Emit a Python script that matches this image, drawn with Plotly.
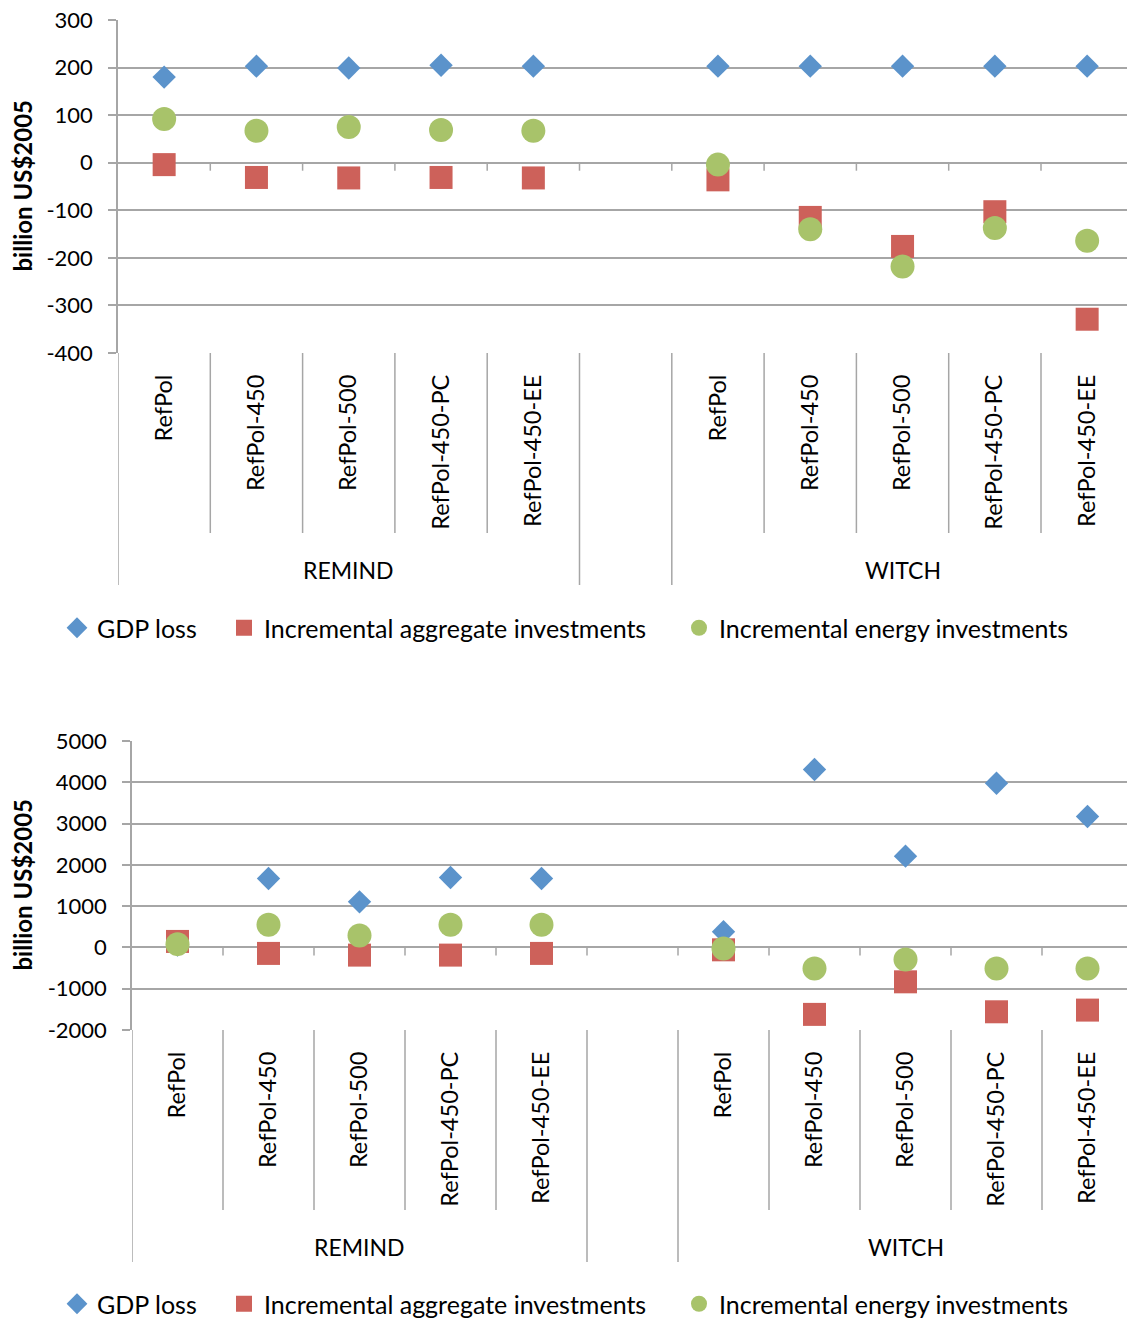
import plotly.graph_objects as go

# ---------------- data ----------------
models = ["REMIND", "WITCH"]
scenarios = ["RefPol", "RefPol-450", "RefPol-500", "RefPol-450-PC", "RefPol-450-EE"]
series_names = ["GDP loss", "Incremental aggregate investments", "Incremental energy investments"]

# top panel (REMIND x5, then WITCH x5), billion US$2005
top_gdp_loss = [180, 203, 199, 205, 203, 203, 203, 203, 203, 203]
top_agg_inv = [-4, -31, -32, -31, -32, -36, -115, -176, -103, -329]
top_energy_inv = [92, 67, 75, 69, 67, -4, -140, -218, -137, -164]

# bottom panel
bottom_gdp_loss = [60, 1670, 1104, 1695, 1670, 378, 4310, 2211, 3978, 3172]
bottom_agg_inv = [145, -145, -186, -186, -145, -58, -1622, -833, -1559, -1518]
bottom_energy_inv = [80, 547, 290, 547, 547, -24, -508, -291, -508, -508]

top_ticks = [-400, -300, -200, -100, 0, 100, 200, 300]
bottom_ticks = [-2000, -1000, 0, 1000, 2000, 3000, 4000, 5000]

y_title = "billion US$2005"

# ---------------- styling ----------------
W, H = 1127, 1318
FONT = "Lato"
GRID = "#A6A6A6"
colors = ["#5B93CB", "#CD615A", "#A8C36A"]
symbols = ["diamond", "square", "circle"]
sizes = [18, 23, 24]

keys = [f"{m}|{s}" for m in models for s in scenarios]
cat_array = keys[:5] + ["gap"] + keys[5:]


def py(p):
    return 1 - p / H


def px(p):
    return p / W


panels = [
    dict(left=118, top=20, bottom=353, slot=92.3, data=[top_gdp_loss, top_agg_inv, top_energy_inv],
         ticks=top_ticks, legend_y=628, legends=["legend", "legend2", "legend3"]),
    dict(left=132, top=741, bottom=1030, slot=91.0, data=[bottom_gdp_loss, bottom_agg_inv, bottom_energy_inv],
         ticks=bottom_ticks, legend_y=1304, legends=["legend4", "legend5", "legend6"]),
]

fig = go.Figure()
layout = dict(width=W, height=H, margin=dict(l=0, r=0, t=0, b=0, autoexpand=False),
              plot_bgcolor="white", paper_bgcolor="white", showlegend=True,
              font=dict(family=FONT, size=22, color="black"),
              shapes=[], annotations=[])

legend_text_x = [97, 264, 719]

for pi, p in enumerate(panels):
    sfx = "" if pi == 0 else "2"
    xa, ya = "x" + sfx, "y" + sfx
    for si in range(3):
        fig.add_trace(go.Scatter(
            x=keys, y=p["data"][si], mode="markers", name=series_names[si],
            xaxis=xa, yaxis=ya, legend=p["legends"][si], showlegend=True,
            marker=dict(symbol=symbols[si], size=sizes[si], color=colors[si], line=dict(width=0)),
        ))
        layout[p["legends"][si]] = dict(
            x=px(legend_text_x[si] - 40), xanchor="left", y=py(p["legend_y"]), yanchor="middle",
            orientation="h", bgcolor="rgba(0,0,0,0)", borderwidth=0, visible=True,
            font=dict(family=FONT, size=25, color="black"), itemwidth=30)
    xrange = [-0.5, -0.5 + (W - p["left"]) / p["slot"]]
    layout["xaxis" + sfx] = dict(
        domain=[px(p["left"]), 1], anchor=ya, type="category", categoryarray=cat_array,
        categoryorder="array", range=xrange, showgrid=False, zeroline=False, showline=False,
        automargin=False,
        tickmode="array", tickvals=keys, ticktext=[s for m in models for s in scenarios],
        tickangle=-90, ticks="", ticklabelstandoff=16,
        tickfont=dict(family=FONT, size=23.5, color="black"))
    layout["yaxis" + sfx] = dict(
        domain=[py(p["bottom"]), py(p["top"])], anchor=xa, range=[p["ticks"][0], p["ticks"][-1]],
        automargin=False,
        tickmode="array", tickvals=p["ticks"], ticktext=[str(t) for t in p["ticks"]],
        showgrid=True, gridcolor=GRID, gridwidth=1.5,
        zeroline=True, zerolinecolor=GRID, zerolinewidth=1.5, showline=True, linecolor=GRID,
        linewidth=1.5, ticks="outside", ticklen=8, tickcolor=GRID, tickwidth=1.5,
        ticklabelstandoff=11, tickfont=dict(family=FONT, size=22, color="black"))
    ymin = p["ticks"][0]
    n = len(cat_array)
    group_bounds = [-0.5, 4.5, 5.5, 10.5]
    for b in range(n - 1):
        bx = b + 0.5
        # small ticks on the zero line
        layout["shapes"].append(dict(type="line", xref=xa, yref=ya, x0=bx, x1=bx, ysizemode="pixel",
                                     yanchor=0, y0=0, y1=-8, line=dict(color=GRID, width=1.5)))
        if bx not in group_bounds:
            layout["shapes"].append(dict(type="line", xref=xa, yref="paper", x0=bx, x1=bx,
                                         y0=py(p["bottom"]), y1=py(p["bottom"] + 180),
                                         line=dict(color=GRID, width=1.5)))
    for bx in group_bounds:
        layout["shapes"].append(dict(type="line", xref=xa, yref="paper", x0=bx, x1=bx,
                                     y0=py(p["bottom"]), y1=py(p["bottom"] + 232),
                                     line=dict(color=GRID, width=1.5)))
    for gi, m in enumerate(models):
        layout["annotations"].append(dict(
            text=m, xref=xa, yref=ya, x=2 + gi * 6, y=ymin, yshift=-217, showarrow=False,
            xanchor="center", yanchor="middle", font=dict(family=FONT, size=23, color="black")))
    layout["annotations"].append(dict(
        text=f"<b>{y_title}</b>", xref="paper", yref="paper", x=px(22),
        y=(py(p["top"]) + py(p["bottom"])) / 2, textangle=-90, showarrow=False,
        xanchor="center", yanchor="middle", font=dict(family=FONT, size=24, color="black")))

fig.update_layout(**layout)
fig.write_html("out.html", config={"displayModeBar": False},
               post_script="document.body.style.margin='0px';")
